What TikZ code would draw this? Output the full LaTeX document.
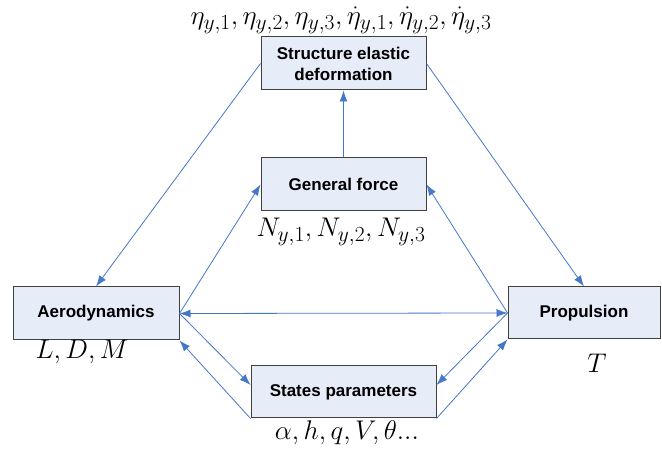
\RequirePackage{fix-cm}
\documentclass[tikz,border=0pt]{standalone}
\usepackage{fontspec}
\setsansfont{Liberation Sans}
\usetikzlibrary{arrows.meta}
\DeclareMathSizes{27}{27}{21.5}{15}
\definecolor{boxfill}{RGB}{230,236,248}
\definecolor{boxline}{RGB}{64,64,64}
\definecolor{conn}{RGB}{70,120,200}
\tikzset{
  blk/.style={draw=boxline, line width=1pt, fill=boxfill, inner sep=2pt, align=center,
    font=\sffamily\bfseries\fontsize{17}{21}\selectfont},
  lbl/.style={inner sep=0pt, font=\fontsize{27}{30}\selectfont},
  link/.style={draw=conn, line width=0.8pt, -{Latex[length=11pt,width=8pt]}},
  dlink/.style={draw=conn, line width=0.8pt, {Latex[length=11pt,width=8pt]}-{Latex[length=11pt,width=8pt]}}
}
\begin{document}
\begin{tikzpicture}[x=1pt,y=-1pt]
\useasboundingbox (0,0) rectangle (662,454);
\node[blk, minimum width=165pt, minimum height=53pt] (sed) at (343.5,63.5) {Structure elastic\\deformation};
\node[blk, minimum width=165pt, minimum height=53pt] (gf) at (343.5,184.5) {General force};
\node[blk, minimum width=166pt, minimum height=53pt] (aero) at (96,313.5) {Aerodynamics};
\node[blk, minimum width=152pt, minimum height=52pt] (prop) at (584,313) {Propulsion};
\node[blk, minimum width=185pt, minimum height=52pt] (sp) at (343.5,392) {States parameters};

\node[lbl] (eta) at (341,20) {$\eta_{y,1},\eta_{y,2},\eta_{y,3},\dot{\eta}_{y,1},\dot{\eta}_{y,2},\dot{\eta}_{y,3}$};
\node[lbl] (ny) at (341,232) {$N_{y,1},N_{y,2},N_{y,3}$};
\node[lbl] (ldm) at (82,352) {$L,D,M$};
\node[lbl] (tt) at (597,363) {$T$};
\node[lbl] (st) at (347,433) {$\alpha,h,q,V,\theta...$};

\draw[link] (sed.west) -- (aero.north);
\draw[link] (sed.east) -- (prop.north);
\draw[link] (gf.north) -- (sed.south);
\draw[link] (aero.east) -- (gf.west);
\draw[link] (prop.west) -- (gf.east);
\draw[dlink] (aero.east) -- (prop.west);
\coordinate (spw) at ([yshift=7pt]sp.west);
\coordinate (spe) at ([yshift=7pt]sp.east);
\draw[link] (aero.east) -- (spw);
\draw[link] (prop.west) -- (spe);
\draw[link] (sp.south west) -- (aero.south east);
\draw[link] (sp.south east) -- (prop.south west);
\end{tikzpicture}
\end{document}
